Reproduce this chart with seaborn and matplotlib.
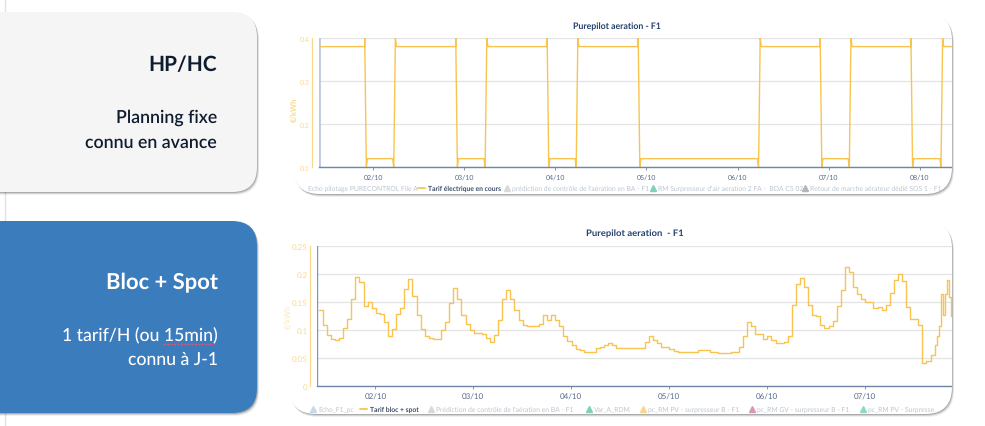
import pandas as pd
import numpy as np
import matplotlib
matplotlib.use("Agg")
import matplotlib.pyplot as plt
import matplotlib.dates as mdates
from matplotlib.patches import FancyBboxPatch
import seaborn as sns

# tarif HP/HC : jours (jour du mois + fraction) ou le tarif bascule
bascules_hc = [1.905, 2.905, 3.909, 4.909, 6.908, 7.905]
bascules_hp = [2.242, 3.246, 4.246, 6.249, 7.246, 8.253]
debut_hphc = 1.42
fin_hphc = 8.356
tarif_hp = 0.38
tarif_hc = 0.12
pic_haut = 0.40
pic_bas = 0.10

# tarif bloc + spot, valeurs horaires
debut_spot = 1.42
spot_horaire = [
    0.137, 0.110, 0.092, 0.084, 0.082, 0.087, 0.105, 0.121, 0.156, 0.195, 0.187, 0.144,
    0.150, 0.140, 0.131, 0.129, 0.115, 0.089, 0.102, 0.129, 0.140, 0.173, 0.192, 0.162,
    0.127, 0.102, 0.090, 0.086, 0.085, 0.084, 0.100, 0.114, 0.149, 0.176, 0.156, 0.127,
    0.111, 0.101, 0.095, 0.095, 0.094, 0.086, 0.080, 0.092, 0.119, 0.156, 0.172, 0.156,
    0.137, 0.118, 0.110, 0.107, 0.107, 0.107, 0.111, 0.127, 0.118, 0.128, 0.118, 0.107,
    0.089, 0.081, 0.073, 0.067, 0.064, 0.062, 0.061, 0.061, 0.068, 0.070, 0.074, 0.078,
    0.074, 0.068, 0.068, 0.068, 0.068, 0.068, 0.068, 0.068, 0.080, 0.089, 0.082, 0.077,
    0.071, 0.070, 0.067, 0.063, 0.062, 0.061, 0.061, 0.061, 0.061, 0.065, 0.064,
    0.064, 0.062, 0.061, 0.060, 0.0595, 0.0595, 0.061, 0.061, 0.071, 0.090, 0.115, 0.107,
    0.093, 0.093, 0.085, 0.089, 0.083, 0.077, 0.077, 0.080, 0.089, 0.145, 0.182, 0.193,
    0.177, 0.145, 0.127, 0.126, 0.110, 0.104, 0.107, 0.117, 0.143, 0.172, 0.2125, 0.205,
    0.177, 0.164, 0.156, 0.151, 0.151, 0.139, 0.141, 0.136, 0.146, 0.167, 0.190, 0.200,
    0.188, 0.142, 0.120, 0.120, 0.110, 0.042, 0.046, 0.056, 0.074,
]
# fin de serie plus hachee, pas de 30 min
spot_fin = [0.090, 0.108, 0.165, 0.127, 0.165, 0.189, 0.160, 0.125, 0.155]

legende_haut = ["Echo pilotage PURECONTROL File A", "Tarif électrique en cours",
                "prédiction de contrôle de l'aération en BA - F1",
                "RM Surpresseur d'air aeration 2 FA -  BDA C5 02",
                "Retour de marche aérateur dédié SOS 1 - F1"]
legende_bas = ["Echo_F1_pc", "Tarif bloc + spot",
               "Prédiction de contrôle de l'aération en BA - F1", "Var_A_RDM",
               "pc_RM PV - surpresseur B - F1", "pc_RM GV - surpresseur B - F1",
               "pc_RM PV - Surpresse"]

W, H = 985, 427
JAUNE = "#f8c44f"
JAUNE_PALE = "#fbd98a"
GRIS_LEG = "#bcc5d0"
MARINE = "#23406e"


def jour(d):
    return pd.Timestamp("2024-10-01") + pd.to_timedelta(np.asarray(d) - 1, unit="D")


sns.set_theme(style="white")
plt.rcParams["font.family"] = ["Lato", "DejaVu Sans"]
plt.rcParams["text.hinting"] = "no_hinting"

fig = plt.figure(figsize=(W / 100, H / 100), dpi=100, facecolor="white")
fond = fig.add_axes([0, 0, 1, 1])
fond.set_xlim(0, W)
fond.set_ylim(H, 0)
fond.axis("off")


def carte(x0, y0, x1, y1, couleur, rayon=25, ombre="#000000"):
    for dec, a in [(3, 0.06), (2, 0.12), (1, 0.18)]:
        fond.add_patch(FancyBboxPatch((x0 + dec * 0.7, y0 + dec), x1 - x0, y1 - y0,
                                      boxstyle=f"round,pad=0,rounding_size={rayon}",
                                      fc=ombre, ec="none", alpha=a, zorder=2))
    p = FancyBboxPatch((x0, y0), x1 - x0, y1 - y0,
                       boxstyle=f"round,pad=0,rounding_size={rayon}",
                       fc=couleur, ec="none", zorder=3)
    fond.add_patch(p)
    return p


# trait vertical de la diapo, derriere les cartes
fond.plot([5, 5], [0, H], color="#dfe2ea", lw=1, zorder=1)

carte(-30, 13, 257, 193, "#f5f5f5")
carte(-30, 222, 257, 414, "#3b7cbd")
carte_haut = carte(293, 14, 952, 195, "white", rayon=27)
carte_bas = carte(289, 222, 952, 415, "white", rayon=27)

NOIR = "#0f1c2e"
fond.text(217, 65, "HP/HC", ha="right", va="center", fontsize=15, fontweight="bold", color=NOIR, zorder=5)
fond.text(217, 118, "Planning fixe", ha="right", va="center", fontsize=12.8, fontweight="semibold", color=NOIR, zorder=5)
fond.text(217, 143, "connu en avance", ha="right", va="center", fontsize=12.8, fontweight="semibold", color=NOIR, zorder=5)
fond.text(218, 283, "Bloc + Spot", ha="right", va="center", fontsize=15.8, fontweight="bold", color="white", zorder=5)
fond.text(218, 335, "1 tarif/H (ou 15min)", ha="right", va="center", fontsize=12.7, fontweight="medium", color="white", zorder=5)
fond.text(218, 360, "connu à J-1", ha="right", va="center", fontsize=12.7, fontweight="medium", color="white", zorder=5)
fond.plot([163, 213], [345, 345], color="#e0566e", lw=1, ls=(0, (1.5, 1)), zorder=6)


def legende(y, textes, xs_txt, marques, actif):
    for i, (t, x) in enumerate(zip(textes, xs_txt)):
        c = "#3d4f69" if i == actif else GRIS_LEG
        w = "bold" if i == actif else "normal"
        fond.text(x, y, t, ha="left", va="center", fontsize=4.9, color=c, fontweight=w, zorder=5)
        m = marques[i]
        if m is None:
            continue
        if i == actif:
            fond.plot([x - 10, x - 3], [y, y], color=JAUNE, lw=1.3, zorder=5)
        else:
            fond.plot([x - 5], [y], marker="^", ms=4, color=m, ls="none", zorder=5)


legende(189, legende_haut, [308, 428, 512, 658, 810],
        [None, JAUNE, "#d9d9d9", "#7fd1bb", "#b5b5b5"], 1)
legende(410, legende_bas, [318, 370, 436, 594, 648, 757, 868],
        ["#c5d8ec", JAUNE, "#d9d9d9", "#7fd1bb", "#f6d98c", "#d59ab8", "#8ed8c5"], 1)


def axe(x0, y0, x1, y1, patch, yticks, ylabels, ylim, xlim, jours, titre, titre_x, titre_y, titre_fs, tick_fs):
    ax = fig.add_axes([x0 / W, 1 - y1 / H, (x1 - x0) / W, (y1 - y0) / H], facecolor="none")
    ax.set_ylim(*ylim)
    ax.set_xlim(jour(xlim[0]), jour(xlim[1]))
    ax.set_yticks(yticks, ylabels)
    ax.set_xticks(jour(jours))
    ax.xaxis.set_major_formatter(mdates.DateFormatter("%d/%m"))
    ax.grid(axis="y", color="#e4e4e4", lw=0.9)
    ax.set_axisbelow(True)
    for s in ["top", "right"]:
        ax.spines[s].set_visible(False)
    ax.spines["bottom"].set_color("#6f86a6")
    ax.spines["bottom"].set_linewidth(1)
    ax.spines["bottom"].set_clip_path(patch)
    ax.spines["left"].set_position(("outward", 5))
    ax.spines["left"].set_color(JAUNE_PALE)
    ax.spines["left"].set_linewidth(0.9)
    ax.tick_params(axis="y", length=0, pad=1.5, labelsize=tick_fs, labelcolor=JAUNE_PALE)
    ax.tick_params(axis="x", bottom=True, length=2.5, width=0.6, color="#6f86a6", pad=2,
                   labelsize=tick_fs, labelcolor="#566a88")
    fond.text(titre_x, titre_y, titre, ha="center", va="center", fontsize=titre_fs,
              fontweight="bold", color=MARINE, zorder=5)
    return ax


# graphique du haut
x_hphc = [debut_hphc]
y_hphc = [tarif_hp]
for t_hc, t_hp in zip(bascules_hc, bascules_hp):
    x_hphc += [t_hc, t_hc, t_hc + 0.018, t_hc + 0.03, t_hp - 0.03, t_hp - 0.018, t_hp, t_hp + 0.012]
    y_hphc += [tarif_hp, pic_haut, pic_bas, tarif_hc, tarif_hc, pic_bas, pic_haut, tarif_hp]
x_hphc.append(fin_hphc)
y_hphc.append(tarif_hp)

ax1 = axe(319, 39, 952, 168.3, carte_haut, [0.1, 0.2, 0.3, 0.4], ["0.1", "0.2", "0.3", "0.4"],
          (0.1, 0.4), (1.403, 8.356), [2, 3, 4, 5, 6, 7, 8],
          "Purepilot aeration - F1", 617, 27, 6.3, 5)
ax1.axvline(jour(1.403), color="#bccadb", lw=2)
df_hphc = pd.DataFrame({"date": jour(x_hphc), "tarif": y_hphc})
sns.lineplot(data=df_hphc, x="date", y="tarif", ax=ax1, color=JAUNE, lw=1.0, estimator=None, sort=False)
ax1.set_xlabel("")
ax1.set_ylabel("")
fond.text(295, 110, "€/kWh", rotation=90, ha="center", va="center", fontsize=5.5,
          color=JAUNE_PALE, fontweight="bold", zorder=5)

# graphique du bas
x_spot = debut_spot + np.arange(len(spot_horaire)) / 24
x_fin = x_spot[-1] + (np.arange(len(spot_fin)) + 1) / 48
df_spot = pd.DataFrame({"date": jour(np.concatenate([x_spot, x_fin])),
                        "tarif": spot_horaire + spot_fin})
ax2 = axe(316.7, 247.3, 952, 387.3, carte_bas, [0, 0.05, 0.1, 0.15, 0.2, 0.25],
          ["0", "0.05", "0.1", "0.15", "0.2", "0.25"],
          (0, 0.25), (1.40, 7.889), [2, 3, 4, 5, 6, 7],
          "Purepilot aeration  - F1", 635, 234, 6.8, 5.8)
ax2.axvline(jour(1.40), color="#7f96b5", lw=1)
sns.lineplot(data=df_spot, x="date", y="tarif", ax=ax2, color=JAUNE, lw=1.0,
             estimator=None, drawstyle="steps-post")
ax2.set_xlabel("")
ax2.set_ylabel("")
fond.text(289.5, 317, "€/kWh", rotation=90, ha="center", va="center", fontsize=5.5,
          color="#fdeecb", fontweight="bold", zorder=5)

fig.savefig("out.png", dpi=100)
